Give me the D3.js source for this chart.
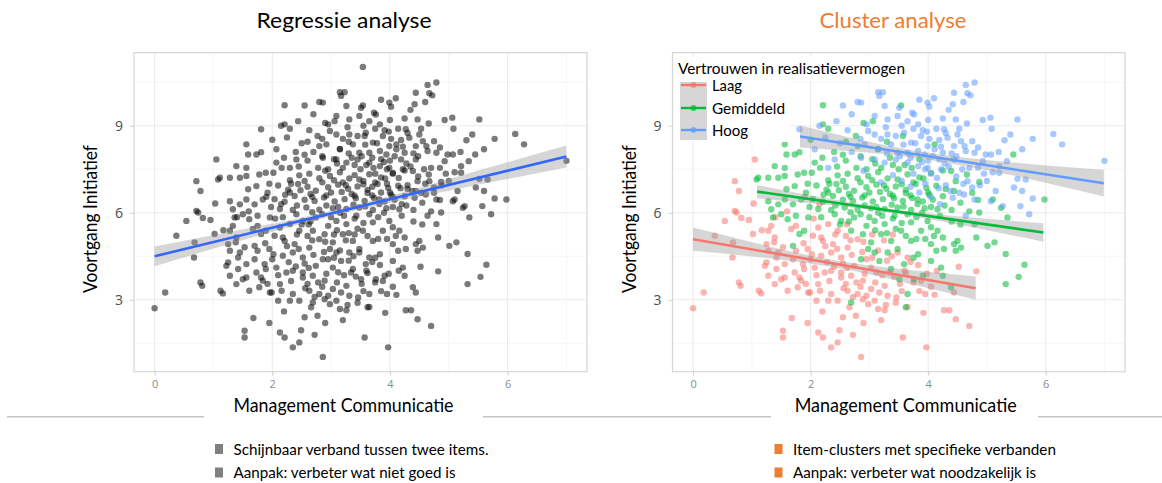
<!DOCTYPE html>
<html>
<head>
<meta charset="utf-8">
<script src="https://cdn.jsdelivr.net/npm/d3@7"></script>
<style>
  body { margin: 0; background: #fff; }
  svg { display: block; }
  text { font-family: Lato, "Open Sans", sans-serif; }
</style>
</head>
<body>
<svg id="chart" width="1162" height="483"></svg>
<script>
// punten per cluster [management communicatie, voortgang initiatief]
const laag = [
  [0.00,2.71],[0.18,3.25],[0.37,5.21],[0.54,5.72],[0.68,4.98],[0.67,4.46],[0.74,6.01],[0.82,5.82],[0.95,5.75],[0.78,3.60],
  [0.81,3.48],[1.02,5.27],[1.12,3.31],[1.16,3.22],[1.17,5.40],[1.28,5.38],[1.33,5.55],[1.39,5.15],[1.38,4.98],[1.25,4.92],
  [1.28,4.69],[1.25,4.29],[1.22,4.17],[1.42,4.06],[1.28,3.83],[1.39,3.54],[1.50,3.71],[1.56,3.77],[1.56,4.23],[1.53,4.81],
  [1.45,4.63],[1.42,4.46],[1.61,3.31],[1.68,2.37],[1.53,1.93],[1.53,1.70],[1.75,5.55],[1.67,5.44],[1.75,4.69],[1.73,3.94],
  [1.81,3.77],[1.78,3.43],[1.84,3.66],[1.96,3.25],[1.87,4.23],[1.89,4.06],[1.05,7.84],[0.71,7.09],[0.78,6.75],[1.03,6.32],
  [0.71,6.06],[2.13,5.49],[2.21,5.03],[2.02,4.57],[2.18,4.52],[2.35,4.63],[2.38,4.92],[2.52,4.46],[2.07,4.11],[2.24,3.94],
  [2.35,4.00],[2.52,3.77],[2.69,3.83],[2.89,3.66],[2.13,3.54],[1.99,3.25],[2.16,3.31],[2.30,2.97],[2.46,2.97],[2.10,2.97],
  [2.63,3.31],[2.80,3.20],[2.89,3.02],[3.09,2.97],[3.31,3.14],[3.17,3.25],[3.03,3.37],[3.26,3.48],[2.66,2.74],[2.77,2.45],
  [3.15,2.68],[3.26,2.64],[2.13,1.87],[2.21,1.70],[2.49,1.95],[2.72,1.79],[2.46,1.53],[2.35,1.36],[2.86,1.03],[3.57,1.70],
  [3.97,1.36],[4.27,2.64],[4.11,3.17],[3.65,4.46],[3.48,4.63],[3.34,3.94],[3.03,4.11],[2.74,4.17],[2.63,4.80],[2.80,5.09],
  [2.46,5.38],[2.30,5.61],[2.04,5.21],[2.52,3.94],[2.95,3.14],[4.52,4.14],[4.82,3.98],[4.44,3.25],[4.47,2.33],[4.70,2.10],
  [4.36,2.64],[3.85,3.30],[3.98,3.90],[3.75,3.60],[4.05,3.45],[3.55,3.30],[3.42,3.80],[3.60,4.00],[3.83,4.20],[4.15,4.00],
  [3.45,2.90],[3.65,2.75],[3.92,2.55],[3.20,2.30],[1.95,2.20],[2.55,4.25],[2.70,4.55],[2.95,4.40],[3.15,4.70],[2.40,4.15],
  [2.60,3.55],[2.85,3.45],[3.10,3.60],[3.30,4.35],[2.25,4.85],[1.95,4.75],[2.05,5.80],[2.60,5.20],[2.90,5.00],[3.25,5.05],
  [3.40,5.25],[2.15,6.30],[1.90,6.55],[1.60,6.05],[1.40,5.85],
  [2.28,4.30],[2.45,4.75],[2.62,4.10],[2.78,3.60],[2.92,3.90],[3.05,4.45],[3.22,3.85],[3.38,4.50],[3.52,3.55],[3.70,4.30],
  [2.10,3.85],[2.32,3.65],[2.56,3.40],[2.72,3.10],[2.98,2.85],[3.12,3.95],[3.28,2.82],[3.46,3.08],[3.62,3.92],[3.88,3.65],
  [1.88,4.95],[2.00,4.40],[2.18,5.15],[2.42,5.25],[2.68,5.05],[2.88,4.65],[3.05,5.25],[2.20,2.60],[2.55,2.40],[2.90,2.20],
  [1.70,4.40],[1.92,3.55],[2.62,5.60],[2.35,3.20],[3.95,3.20]
];
const gemiddeld = [
  [1.56,8.36],[1.73,8.01],[1.81,8.09],[1.59,8.01],[1.39,7.61],[1.56,7.55],[1.11,7.21],[1.08,7.15],[1.28,7.21],[1.45,7.21],
  [1.56,7.27],[1.78,7.32],[1.89,7.38],[1.73,6.92],[1.59,6.81],[1.28,6.40],[1.45,6.29],[1.56,6.46],[1.70,6.29],[1.84,6.46],
  [1.92,6.69],[1.33,6.12],[1.36,5.84],[1.50,5.95],[1.61,5.78],[1.75,5.90],[1.81,5.27],[1.70,4.86],[1.89,5.38],[1.96,5.84],
  [2.21,9.71],[3.54,9.70],[2.00,8.52],[3.06,9.16],[2.21,9.05],[2.77,8.65],[3.57,8.65],[4.11,8.36],[2.07,7.73],
  [2.02,7.38],[2.16,7.55],[2.30,7.12],[2.46,7.29],[2.63,7.35],[2.80,7.19],[2.98,7.27],[3.15,7.40],[3.31,7.18],[3.48,7.15],
  [3.65,7.33],[3.85,7.22],[4.05,7.37],[4.25,7.46],[2.10,6.94],[2.27,6.80],[2.44,6.99],[2.60,6.90],[2.74,6.76],[2.95,6.88],
  [3.12,6.97],[3.29,6.83],[3.45,6.91],[3.62,6.79],[3.79,6.99],[3.97,6.86],[4.14,6.93],[4.30,6.82],[2.04,6.47],[2.21,6.38],
  [2.38,6.58],[2.55,6.45],[2.72,6.41],[2.88,6.53],[3.06,6.39],[3.23,6.47],[3.40,6.59],[3.57,6.41],[3.73,6.51],[3.91,6.39],
  [4.08,6.45],[4.25,6.57],[2.13,6.13],[2.35,6.10],[2.58,6.18],[2.80,6.11],[3.03,6.16],[3.26,6.13],[3.48,6.18],[3.71,6.10],
  [3.94,6.16],[4.16,6.12],[5.45,8.01],[4.39,7.44],[4.47,7.09],[4.66,7.32],[4.87,7.06],[4.44,6.75],[4.75,6.69],[4.85,6.44],
  [5.10,6.46],[5.24,6.17],[5.98,6.46],[5.35,5.84],[4.82,5.15],[5.01,4.86],[5.13,4.98],[4.50,5.03],[4.56,4.80],[4.47,4.69],
  [4.44,4.92],[5.32,4.58],[5.64,4.21],[5.54,3.79],[5.32,3.54],[4.39,3.43],[4.87,6.01],[4.79,5.61],[3.62,2.74],[2.69,2.91],
  [3.65,3.20],[3.51,3.71],[3.76,3.71],[3.91,3.83],[3.37,4.06],[3.17,4.34],[2.86,4.40],[3.09,4.63],[3.31,4.63],[3.59,4.23],
  [3.83,4.57],[4.05,4.34],[4.22,4.11],[4.25,3.83],[4.05,4.92],[3.88,5.38],[3.71,5.03],[3.54,5.38],[3.37,5.03],[3.20,5.26],
  [3.03,4.98],[2.89,5.26],[2.69,5.38],[2.52,5.72],[2.41,5.95],[2.74,5.84],[3.09,5.72],[3.43,5.90],[3.71,5.67],[3.99,5.72],
  [4.16,5.38],[4.27,4.75],[4.14,4.69],[3.26,5.61],[2.95,5.55],[2.60,7.80],[2.85,7.95],[3.10,7.70],[3.35,7.90],[3.60,7.65],
  [3.85,7.85],[2.45,7.60],[2.95,7.50],[3.20,7.55],[3.50,7.50],[2.30,6.70],[2.65,6.65],[3.00,6.70],[3.35,6.65],[3.70,6.60],
  [4.00,6.70],[2.50,5.60],[2.85,5.95],[3.15,6.00],[3.40,5.80],[3.65,5.95],[3.90,6.00],[4.20,5.90],[4.40,6.10],[4.55,6.35],
  [4.40,5.70],[4.10,5.20],[3.80,5.10],[3.45,5.45],[3.10,5.40],[2.80,8.30],[3.15,8.20],[2.40,8.10],[2.60,8.45],[3.30,8.45],
  [2.30,8.90],[2.90,9.10],
  [2.22,6.62],[2.48,6.78],[2.68,6.55],[2.92,6.60],[3.18,6.72],[3.42,6.50],[3.62,6.68],[3.82,6.46],[4.02,6.62],[2.32,7.00],
  [2.55,7.10],[2.85,7.05],[3.05,7.12],[3.25,6.95],[3.55,6.98],[3.75,7.05],[3.92,7.18],[2.18,5.85],[2.42,6.25],[2.68,6.02],
  [2.92,6.25],[3.12,6.20],[3.38,6.28],[3.58,6.22],[3.82,6.30],[4.05,6.20],[4.28,6.25],[2.65,5.70],[3.00,5.85],[3.22,5.90],
  [3.55,5.65],[3.80,5.85],[4.05,5.50],[3.30,5.30],[3.62,5.20],[3.95,5.10],[4.25,5.15],[2.78,7.55],[3.05,7.85],[3.40,7.65],
  [3.72,7.55],[2.55,8.00],[2.20,7.90],[1.95,7.00],[1.98,6.20],[4.55,5.60],[4.70,6.05],[3.48,4.75],[3.75,4.45],[2.98,4.75]
];
const hoog = [
  [1.81,8.88],[3.15,10.16],[3.23,10.16],[3.17,10.03],[2.55,9.70],[2.80,9.82],[2.86,9.80],[3.26,9.68],[3.51,9.62],[3.73,9.45],
  [3.76,9.39],[3.99,9.80],[4.02,9.66],[2.44,9.16],[2.63,8.85],[2.95,9.05],[3.09,9.34],[3.31,9.22],[3.48,9.34],[3.65,9.16],
  [3.83,9.05],[3.91,8.85],[4.14,8.90],[4.27,8.88],[2.98,8.82],[3.09,8.70],[3.31,8.70],[3.45,8.65],[3.59,8.76],[3.71,8.42],
  [3.88,8.65],[3.99,8.30],[4.19,8.51],[4.33,8.59],[2.92,8.36],[3.15,8.19],[3.37,8.36],[3.48,8.07],[3.65,8.07],[3.83,8.13],
  [3.94,8.01],[4.11,8.19],[4.25,8.07],[2.86,7.90],[3.09,7.84],[3.26,7.73],[3.45,7.84],[3.65,7.73],[3.83,7.61],[3.99,7.55],
  [4.19,7.84],[2.41,7.84],[2.30,7.55],[2.07,8.19],[3.54,11.03],[4.79,10.49],[4.64,10.41],[4.44,10.14],[4.67,10.12],[4.72,10.05],
  [4.42,9.74],[4.60,9.82],[4.47,9.22],[4.66,9.08],[4.93,9.20],[5.06,9.28],[5.52,9.22],[4.53,8.90],[4.50,8.70],[4.56,8.47],
  [4.44,8.30],[4.75,8.47],[5.08,8.90],[5.40,8.70],[5.30,8.50],[5.78,8.55],[6.13,8.72],[6.28,8.36],[5.60,8.19],[4.64,8.13],
  [4.79,8.07],[4.98,8.01],[5.07,8.01],[4.93,7.78],[5.34,7.78],[5.21,7.61],[4.44,7.84],[4.58,7.50],[4.85,7.55],[4.70,7.55],
  [5.21,7.38],[5.10,7.40],[5.52,7.17],[5.66,7.15],[5.46,6.87],[5.15,6.75],[5.60,6.75],[5.78,6.49],[4.67,7.09],[4.75,6.87],
  [4.61,6.63],[4.79,6.46],[5.07,6.40],[5.27,6.23],[5.57,6.23],[4.53,6.69],[4.42,6.52],[5.72,5.95],[4.64,5.90],[7.00,7.79],
  [3.55,7.10],[3.75,7.35],[3.95,7.00],[4.15,7.20],[4.30,6.95],[3.85,6.70],[4.05,6.55],[4.20,6.30],[3.70,6.90],[4.35,7.60],
  [4.00,7.80],[3.40,7.30],[3.20,7.05],[2.90,7.45],[2.70,8.10],[2.50,8.40],[2.25,8.60],[4.10,9.95],[3.85,9.90],[4.35,9.55],
  [2.70,9.40],[2.15,9.00],
  [3.58,8.35],[3.78,8.40],[4.02,8.55],[4.22,8.28],[4.40,8.05],[3.30,8.05],[3.52,7.95],[3.70,7.90],[3.90,7.75],[4.08,7.95],
  [4.28,7.70],[4.48,7.95],[4.62,8.30],[4.85,8.25],[4.05,7.35],[4.22,7.50],[4.48,7.25],[4.60,7.00],[4.38,6.75],[4.18,6.85],
  [3.95,7.50],[3.28,8.95],[3.55,9.00],[3.75,8.90],[4.00,9.20],[4.25,9.25],[2.85,8.55],[3.20,8.55],[3.98,8.80],[4.30,8.75],
  [5.20,8.10],[4.95,7.35],[4.88,6.95],[5.00,7.10]
];

// regressielijnen: x, fit en halve breedte van de band
const fitAll  = { x: [0, 1.6, 3.2, 5, 7],          y: [4.50, 5.29, 6.07, 6.96, 7.94], half: [0.34, 0.18, 0.09, 0.20, 0.38] };
const fitLaag = { x: [0, 1.2, 2.4, 3.6, 4.81],     y: [5.09, 4.67, 4.24, 3.82, 3.40], half: [0.40, 0.22, 0.12, 0.22, 0.40] };
const fitGem  = { x: [1.09, 2.2, 3.3, 4.6, 5.96],  y: [6.73, 6.41, 6.09, 5.71, 5.32], half: [0.23, 0.12, 0.07, 0.15, 0.32] };
const fitHoog = { x: [1.82, 2.9, 3.9, 5.4, 6.99],  y: [8.63, 8.29, 7.98, 7.52, 7.02], half: [0.38, 0.20, 0.12, 0.22, 0.46] };

const xTicks = [0, 2, 4, 6];
const xMinor = [1, 3, 5, 7];
const yTicks = [3, 6, 9];
const yMinor = [1.5, 4.5, 7.5, 10.5];

const groups = ["Laag", "Gemiddeld", "Hoog"];
const colors = ["#F8766D", "#00BA38", "#619CFF"];

const svg = d3.select("#chart");

function drawPanel(x0, x1, series, fits, lineColors, mono) {
    const top = 52.7, bottom = 371.7;
    const sx = d3.scaleLinear().domain([-0.35, 7.35]).range([x0, x1]);
    const sy = d3.scaleLinear().domain([0.52, 11.52]).range([bottom, top]);
    const g = svg.append("g");

    // grid
    g.selectAll(".gxm").data(xMinor).join("line")
        .attr("x1", d => sx(d)).attr("x2", d => sx(d)).attr("y1", top).attr("y2", bottom)
        .attr("stroke", "#f4f4f4").attr("stroke-width", 0.8);
    g.selectAll(".gym").data(yMinor).join("line")
        .attr("x1", x0).attr("x2", x1).attr("y1", d => sy(d)).attr("y2", d => sy(d))
        .attr("stroke", "#f4f4f4").attr("stroke-width", 0.8);
    g.append("g").selectAll("line").data(xTicks).join("line")
        .attr("x1", d => sx(d)).attr("x2", d => sx(d)).attr("y1", top).attr("y2", bottom)
        .attr("stroke", "#ebebeb").attr("stroke-width", 1.1);
    g.append("g").selectAll("line").data(yTicks).join("line")
        .attr("x1", x0).attr("x2", x1).attr("y1", d => sy(d)).attr("y2", d => sy(d))
        .attr("stroke", "#ebebeb").attr("stroke-width", 1.1);

    g.append("rect").attr("x", x0).attr("y", top).attr("width", x1 - x0).attr("height", bottom - top)
        .attr("fill", "none").attr("stroke", "#d6d6d6").attr("stroke-width", 1.2);

    // assen
    const ax = g.append("g").attr("transform", `translate(0,${bottom})`)
        .call(d3.axisBottom(sx).tickValues(xTicks).tickSize(4).tickPadding(5));
    ax.select(".domain").remove();
    ax.selectAll("line").attr("stroke", "#cfcfcf");
    ax.selectAll("text").attr("fill", "#8a8a8a").style("font-family", "'Open Sans', sans-serif").style("font-size", "11px");

    const ay = g.append("g").attr("transform", `translate(${x0},0)`)
        .call(d3.axisLeft(sy).tickValues(yTicks).tickSize(4).tickPadding(7));
    ay.select(".domain").remove();
    ay.selectAll("line").attr("stroke", "#cfcfcf");
    ay.selectAll("text").attr("fill", "#4d4d4d").style("font-family", "'Open Sans', sans-serif").style("font-size", "14px");

    // punten
    series.forEach((pts, i) => {
        g.append("g").selectAll("circle").data(pts).join("circle")
            .attr("cx", d => sx(d[0])).attr("cy", d => sy(d[1])).attr("r", 3.2)
            .attr("fill", mono ? "#000" : colors[i])
            .attr("fill-opacity", mono ? 0.52 : 0.55);
    });

    // regressie
    fits.forEach((f, i) => {
        const rows = f.x.map((x, k) => ({ x, y: f.y[k], h: f.half[k] }));
        g.append("path").datum(rows)
            .attr("d", d3.area().curve(d3.curveNatural)
                .x(d => sx(d.x)).y0(d => sy(d.y - d.h)).y1(d => sy(d.y + d.h)))
            .attr("fill", "#999").attr("fill-opacity", 0.4);
        const ends = [rows[0], rows[rows.length - 1]];
        g.append("path").datum(ends)
            .attr("d", d3.line().x(d => sx(d.x)).y(d => sy(d.y)))
            .attr("stroke", lineColors[i]).attr("stroke-width", 2.6).attr("fill", "none");
    });

    // y titel
    g.append("text")
        .attr("transform", `translate(${x0 - 42},219) rotate(-90)`)
        .attr("text-anchor", "middle").attr("dominant-baseline", "middle")
        .attr("font-size", 20).attr("fill", "#000")
        .attr("textLength", 148).attr("lengthAdjust", "spacingAndGlyphs")
        .text("Voortgang Initiatief");

    return { sx, sy };
}

drawPanel(134, 587, [d3.merge([laag, gemiddeld, hoog])], [fitAll], ["#3366FF"], true);
drawPanel(672.5, 1125, [laag, gemiddeld, hoog], [fitLaag, fitGem, fitHoog], colors, false);

// legenda
const leg = svg.append("g");
leg.append("rect").attr("x", 674).attr("y", 57).attr("width", 236).attr("height", 24).attr("fill", "#fff");
leg.append("rect").attr("x", 674).attr("y", 80).attr("width", 116).attr("height", 62).attr("fill", "#fff");
leg.append("text").attr("x", 678).attr("y", 74).attr("font-size", 15).attr("fill", "#000")
    .attr("textLength", 227).attr("lengthAdjust", "spacingAndGlyphs")
    .text("Vertrouwen in realisatievermogen");
leg.append("rect").attr("x", 680).attr("y", 82).attr("width", 27).attr("height", 58).attr("fill", "#d6d6d6");
const keyY = [85, 108, 130];
const labW = [30, 73, 36];
groups.forEach((name, i) => {
    leg.append("line").attr("x1", 681).attr("x2", 706).attr("y1", keyY[i]).attr("y2", keyY[i])
        .attr("stroke", colors[i]).attr("stroke-width", 2.4);
    leg.append("circle").attr("cx", 693.5).attr("cy", keyY[i]).attr("r", 3).attr("fill", colors[i]).attr("fill-opacity", 0.7);
    leg.append("text").attr("x", 712).attr("y", keyY[i] + 6).attr("font-size", 16).attr("fill", "#000")
        .attr("textLength", labW[i]).attr("lengthAdjust", "spacingAndGlyphs")
        .text(name);
});

// titels
svg.append("text").attr("x", 256.5).attr("y", 28).attr("font-size", 22).attr("fill", "#000")
    .attr("textLength", 175).attr("lengthAdjust", "spacingAndGlyphs").text("Regressie analyse");
svg.append("text").attr("x", 819.5).attr("y", 28).attr("font-size", 22).attr("fill", "#ED7D31")
    .attr("textLength", 147).attr("lengthAdjust", "spacingAndGlyphs").text("Cluster analyse");

// scheidingslijn
const segs = [[7, 204], [483, 771], [1038, 1162]];
svg.selectAll(".sep").data(segs).join("line")
    .attr("x1", d => d[0]).attr("x2", d => d[1]).attr("y1", 416.7).attr("y2", 416.7)
    .attr("stroke", "#c4c4c4").attr("stroke-width", 1.4);

// x titels
[[233.5, 220], [794.7, 222]].forEach(([x, w]) => {
    svg.append("text").attr("x", x).attr("y", 412).attr("font-size", 19).attr("fill", "#000")
        .attr("textLength", w).attr("lengthAdjust", "spacingAndGlyphs").text("Management Communicatie");
});

// bullets
const bullets = [
    { x: 215, color: "#7f7f7f", lines: ["Schijnbaar verband tussen twee items.", "Aanpak: verbeter wat niet goed is"], w: [255, 222] },
    { x: 774.5, color: "#ED7D31", lines: ["Item-clusters met specifieke verbanden", "Aanpak: verbeter wat noodzakelijk is"], w: [263, 243] }
];
const lineY = [449, 472.5];
bullets.forEach(b => {
    b.lines.forEach((t, k) => {
        svg.append("rect").attr("x", b.x).attr("y", lineY[k] - 5).attr("width", 8).attr("height", 10).attr("fill", b.color);
        svg.append("text").attr("x", b.x + 18.5).attr("y", lineY[k] + 5.5).attr("font-size", 16).attr("fill", "#000")
            .attr("textLength", b.w[k]).attr("lengthAdjust", "spacingAndGlyphs").text(t);
    });
});
</script>
</body>
</html>
